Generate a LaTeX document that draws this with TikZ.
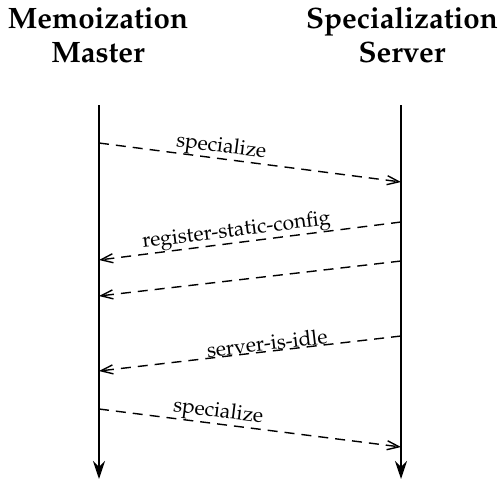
\documentclass[tikz,border=0pt]{standalone}
\usepackage[T1]{fontenc}
\usepackage{mathpazo}
\usetikzlibrary{arrows.meta}
\begin{document}
\begin{tikzpicture}[x=1pt,y=-1pt,
  lifeline/.style={line width=2.4pt,-{Stealth[length=18pt,width=12pt,inset=6pt]}},
  msg/.style={dash pattern=on 10pt off 7pt,line width=1.4pt,-{Straight Barb[length=12pt,width=9pt,line width=1.4pt]}},
  title/.style={font=\bfseries\fontsize{29.5}{34}\selectfont,align=center},
  lab/.style={font=\fontsize{21}{24}\selectfont,sloped,anchor=south,inner sep=0pt}]
\useasboundingbox (0,0) rectangle (502,480);
\node[title] (mm) at (98,35) {Memoization\\Master};
\node[title] (ss) at (402,35) {Specialization\\Server};
\coordinate (lt) at (99,105);
\coordinate (lb) at (99,479);
\coordinate (rt) at (401,105);
\coordinate (rb) at (401,479);
\draw[lifeline] (lt) -- (lb);
\draw[lifeline] (rt) -- (rb);
\coordinate (a1) at (99,143); \coordinate (b1) at (401,182);
\coordinate (a2) at (401,222); \coordinate (b2) at (99,260);
\coordinate (a3) at (401,261); \coordinate (b3) at (99,296);
\coordinate (a4) at (401,336); \coordinate (b4) at (99,371);
\coordinate (a5) at (99,409); \coordinate (b5) at (401,447);
\draw[msg] (a1) -- node[lab,pos=0.4] (l1) {specialize} (b1);
\draw[msg] (a2) -- node[lab,pos=0.54] (l2) {register-static-config} (b2);
\draw[msg] (a3) -- (b3);
\draw[msg] (a4) -- node[lab,pos=0.44] (l4) {server-is-idle} (b4);
\draw[msg] (a5) -- node[lab,pos=0.39] (l5) {specialize} (b5);
\end{tikzpicture}
\end{document}
